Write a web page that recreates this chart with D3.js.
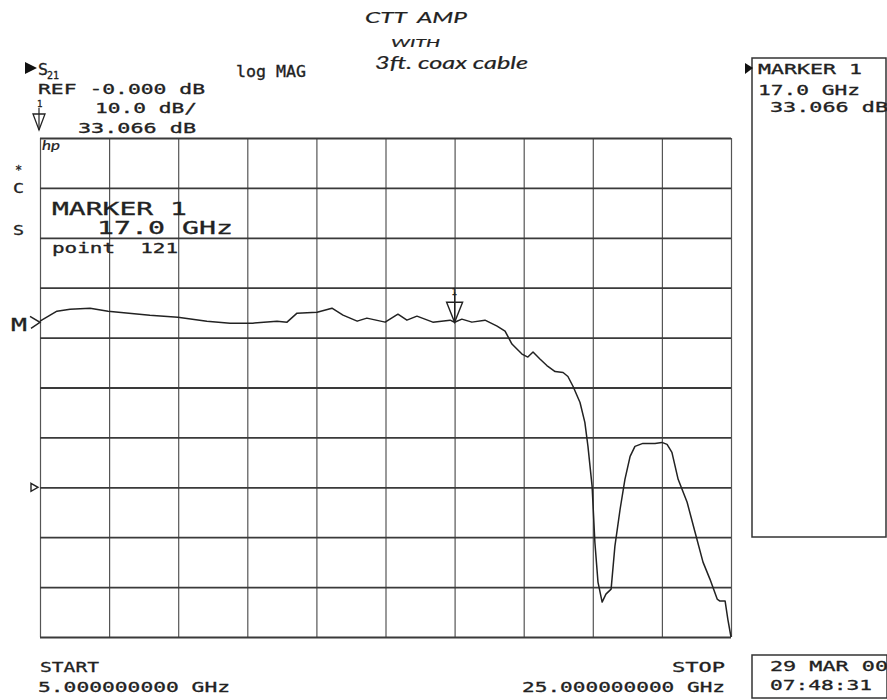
<!DOCTYPE html>
<html>
<head>
<meta charset="utf-8">
<script src="https://cdn.jsdelivr.net/npm/d3@7"></script>
<style>
  body { margin: 0; background: #fff; }
  svg { display: block; }
  .plot { font-family: "DejaVu Sans Mono", monospace; fill: #222; stroke: #222; stroke-width: 0.3; }
  .hand { font-family: "Lato", sans-serif; font-style: italic; fill: #222; stroke: #222; stroke-width: 0.2; }
</style>
</head>
<body>
<div id="area"></div>
<script>
// sweep 5 - 25 GHz, 10 dB/div, ref 0 dB
var freqGHz = [5.00,5.49,5.87,6.45,6.97,8.18,8.99,9.83,10.50,11.16,11.86,12.15,12.44,13.02,13.45,13.77,
  14.18,14.46,14.99,15.36,15.62,15.91,16.37,16.87,17.00,17.21,17.50,17.88,18.23,18.46,18.66,18.95,
  19.12,19.27,19.47,19.67,19.91,20.14,20.28,20.43,20.63,20.77,20.86,20.98,21.06,21.15,21.27,21.38,
  21.53,21.64,21.79,21.93,22.08,22.22,22.45,22.80,23.00,23.15,23.29,23.47,23.73,23.96,24.19,24.39,
  24.60,24.68,24.83,24.91,25.00];
var gainDB = [33.3,35.3,35.7,35.9,35.3,34.5,34.1,33.3,32.9,32.9,33.3,33.1,34.9,35.1,35.9,34.5,
  33.3,33.9,33.1,34.7,33.5,34.3,33.1,33.5,33.07,33.7,33.1,33.5,32.3,31.3,28.7,26.7,
  26.1,27.1,25.7,24.4,23.2,23.0,22.2,20.2,17.0,13.0,8.2,0.2,-11.0,-19.0,-23.0,-21.4,
  -20.4,-11.8,-4.4,1.6,6.2,8.2,8.8,8.8,9.0,8.6,7.0,1.6,-3.0,-9.0,-15.0,-18.4,
  -22.4,-22.8,-22.8,-26.5,-30.0];
var freqTicks = [5,7,9,11,13,15,17,19,21,23,25];
var dbTicks = [-30,-20,-10,0,10,20,30,40,50,60,70];
var marker = {freq: 17.0, db: 33.066, point: 121};
var refLevel = 0;

var width = 887, height = 700;
var gLeft = 40, gRight = 731, gTop = 138, gBottom = 637;

var svg = d3.select('#area').append('svg')
    .attr('width', width).attr('height', height);

var x = d3.scaleLinear().domain([5, 25]).range([gLeft, gRight]);
var y = d3.scaleLinear().domain([-30, 70]).range([gBottom, gTop]);

// grid
var grid = svg.append('g');
grid.append('g')
    .attr('transform', 'translate(0,' + gBottom + ')')
    .call(d3.axisBottom(x).tickValues(freqTicks).tickSize(-(gBottom - gTop)).tickFormat(''))
    .call(function(g){ g.select('.domain').remove(); })
    .selectAll('line').attr('stroke', '#555').attr('stroke-width', 1.2);
grid.append('g')
    .attr('transform', 'translate(' + gLeft + ',0)')
    .call(d3.axisLeft(y).tickValues(dbTicks).tickSize(-(gRight - gLeft)).tickFormat(''))
    .call(function(g){ g.select('.domain').remove(); })
    .selectAll('line').attr('stroke', '#3a3a3a').attr('stroke-width', 1.8);

// trace
var line = d3.line()
    .x(function(d){ return x(d[0]); })
    .y(function(d){ return y(d[1]); });
svg.append('path')
    .datum(d3.zip(freqGHz, gainDB))
    .attr('d', line)
    .attr('fill', 'none')
    .attr('stroke', '#222')
    .attr('stroke-width', 1.5)
    .attr('stroke-linejoin', 'round');

function txt(px, py, s, size, len, anchor, cls) {
  var t = svg.append('text')
      .attr('class', cls || 'plot')
      .attr('x', px).attr('y', py)
      .attr('font-size', size)
      .attr('text-anchor', anchor || 'start')
      .text(s);
  if (len) t.attr('textLength', len).attr('lengthAdjust', 'spacingAndGlyphs');
  return t;
}

// marker on trace
var mx = x(marker.freq), my = y(marker.db);
svg.append('line').attr('x1', mx).attr('x2', mx).attr('y1', my - 30).attr('y2', my)
    .attr('stroke', '#222').attr('stroke-width', 1.2);
svg.append('path')
    .attr('d', 'M' + (mx - 8) + ',' + (my - 20) + 'L' + (mx + 8) + ',' + (my - 20) + 'L' + mx + ',' + my + 'Z')
    .attr('fill', 'none').attr('stroke', '#222').attr('stroke-width', 1.4);
txt(mx - 3, my - 27, '1', 9, 0, 'start');

// M> at left edge
txt(11, y(marker.db) + 9, 'M', 17, 16);
svg.append('path')
    .attr('d', 'M30,' + (y(marker.db) - 6) + 'L40,' + y(marker.db) + 'L31,' + (y(marker.db) + 6))
    .attr('fill', 'none').attr('stroke', '#222').attr('stroke-width', 1.5);
// reference position
svg.append('path')
    .attr('d', 'M31,' + (y(refLevel) - 4) + 'L38,' + y(refLevel) + 'L31,' + (y(refLevel) + 4) + 'Z')
    .attr('fill', 'none').attr('stroke', '#222').attr('stroke-width', 1.4);

// header
svg.append('path').attr('d', 'M25,62L37,68L25,74Z').attr('fill', '#111');
txt(38, 75, 'S', 16, 10);
txt(47, 79, '21', 10, 12);
txt(236, 77, 'log MAG', 15, 70);
txt(38, 94, 'REF -0.000 dB', 14, 167);
txt(37, 107, '1', 9, 0);
svg.append('line').attr('x1', 39).attr('x2', 39).attr('y1', 108).attr('y2', 130)
    .attr('stroke', '#222').attr('stroke-width', 1.2);
svg.append('path').attr('d', 'M33,114L45,114L39,130Z')
    .attr('fill', 'none').attr('stroke', '#222').attr('stroke-width', 1.3);
txt(95, 113, '10.0 dB/', 14, 102);
txt(78, 133, '33.066 dB', 14, 118);
txt(42, 150, 'hp', 13, 18, 'start', 'hand');
txt(15, 174, '*', 12, 0);
txt(13, 193, 'C', 14, 11);
txt(13, 235, 'S', 14, 11);

// marker readout inside grid
txt(52, 215, 'MARKER 1', 18, 135);
txt(97, 234, '17.0 GHz', 18, 136);
txt(52, 253, 'point\u00a0\u00a0' + marker.point, 14, 126);

// handwritten note
txt(365, 23, 'CTT\u00a0\u00a0AMP', 16, 102, 'start', 'hand');
txt(391, 47, 'WITH', 12, 49, 'start', 'hand');
txt(375, 69, '3ft. coax cable', 17, 153, 'start', 'hand');

// right marker box
svg.append('rect').attr('x', 752).attr('y', 58).attr('width', 134).attr('height', 479)
    .attr('fill', 'none').attr('stroke', '#333').attr('stroke-width', 1.5);
svg.append('path').attr('d', 'M745,63L753,68L745,74Z').attr('fill', '#111');
txt(758, 74, 'MARKER 1', 14, 104);
txt(758, 95, '17.0 GHz', 14, 102);
txt(770, 112, '33.066 dB', 14, 118);

// footer
txt(40, 672, 'START', 14, 59);
txt(38, 692, '5.000000000 GHz', 14, 192);
txt(725, 672, 'STOP', 14, 53, 'end');
txt(725, 692, '25.000000000 GHz', 14, 203, 'end');
svg.append('rect').attr('x', 752).attr('y', 655).attr('width', 135).attr('height', 43)
    .attr('fill', 'none').attr('stroke', '#333').attr('stroke-width', 1.5);
txt(770, 671, '29 MAR 00', 14, 118);
txt(770, 690, '07:48:31', 14, 102);
</script>
</body>
</html>
